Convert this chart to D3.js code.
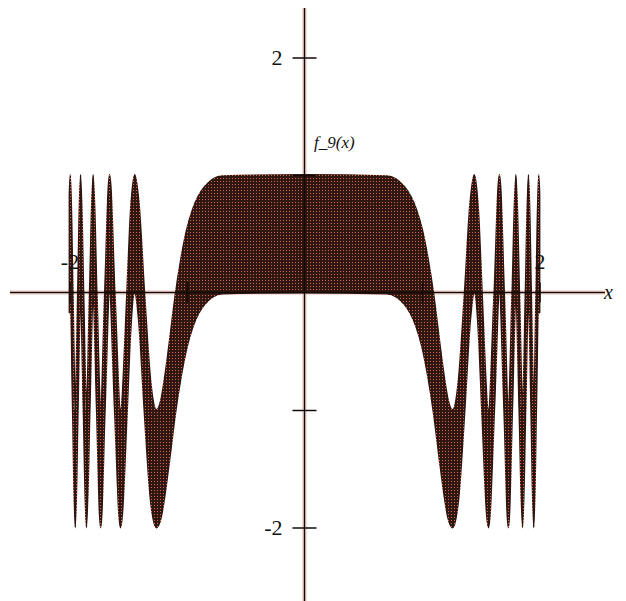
<!DOCTYPE html>
<html>
<head>
<meta charset="utf-8">
<script src="https://cdn.jsdelivr.net/npm/d3@7"></script>
<style>
  body { margin: 0; background: #fff; }
  svg { display: block; }
  .lbl { font-family: "Liberation Serif", "DejaVu Serif", serif; fill: #111; }
</style>
</head>
<body>
<div id="chart"></div>
<script>
// x positions (left to right)
const xs = [-2.0, -1.993, -1.972, -1.951, -1.929, -1.906, -1.881, -1.856, -1.828, -1.799,
    -1.768, -1.735, -1.699, -1.659, -1.615, -1.566, -1.51, -1.485, -1.445, -1.41,
    -1.363, -1.31, -1.26, -1.22, -1.19, -1.15, -1.10, -1.05, -1.0, -0.95, -0.85, -0.7,
    0,
    0.7, 0.85, 0.95, 1.0, 1.05, 1.10, 1.15, 1.19, 1.22, 1.26, 1.31, 1.363,
    1.41, 1.445, 1.485, 1.51, 1.566, 1.615, 1.659, 1.699, 1.735, 1.768,
    1.799, 1.828, 1.856, 1.881, 1.906, 1.929, 1.951, 1.972, 1.993, 2.0];

// top edge of the shaded band
const upper = [0.83, 1, 0, -1, 0, 1, 0, -1, 0, 1,
    0, -1, 0, 1, 0, -1, 0, 0.59, 1, 0.76,
    0, -0.76, -1, -0.91, -0.73, -0.43, -0.03, 0.29, 0.54, 0.71, 0.90, 0.99,
    1,
    0.99, 0.90, 0.71, 0.54, 0.29, -0.03, -0.43, -0.73, -0.91, -1, -0.76, 0,
    0.76, 1, 0.59, 0, -1, 0, 1, 0, -1, 0,
    1, 0, -1, 0, 1, 0, -1, 0, 1, 0.83];

// bottom edge of the shaded band
const lower = [-0.17, 0, -1, -2, -1, 0, -1, -2, -1, 0,
    -1, -2, -1, 0, -1, -2, -1, -0.41, 0, -0.24,
    -1, -1.76, -2, -1.91, -1.73, -1.43, -1.03, -0.71, -0.46, -0.29, -0.10, -0.01,
    0,
    -0.01, -0.10, -0.29, -0.46, -0.71, -1.03, -1.43, -1.73, -1.91, -2, -1.76, -1,
    -0.24, 0, -0.41, -1, -2, -1, 0, -1, -2, -1,
    0, -1, -2, -1, 0, -1, -2, -1, 0, -0.17];

const xTicks = [-2, -1, 1, 2];
const yTicks = [-2, -1, 1, 2];
const shownLabels = [-2, 2];

const width = 626;
const height = 601;

const svg = d3.select("#chart")
    .append("svg")
    .attr("width", width)
    .attr("height", height);

const pattern = svg.append("defs")
    .append("pattern")
    .attr("id", "dots")
    .attr("width", 3)
    .attr("height", 3)
    .attr("patternUnits", "userSpaceOnUse");
pattern.append("rect").attr("width", 3).attr("height", 3).attr("fill", "#2e1611");
pattern.append("rect").attr("x", 1).attr("y", 1).attr("width", 1).attr("height", 1).attr("fill", "#e0644c");

const xScale = d3.scaleLinear().domain([-2, 2]).range([69.5, 539.5]);
const yScale = d3.scaleLinear().domain([-2, 2]).range([527.5, 57.5]);

const x0 = xScale(0);
const y0 = yScale(0);

const axisLines = [
    { x1: 10, x2: 605, y1: y0, y2: y0 },
    { x1: x0, x2: x0, y1: 8, y2: height }
];

// faint pink halo under everything
axisLines.forEach(function(l) {
    svg.append("line")
        .attr("x1", l.x1).attr("x2", l.x2).attr("y1", l.y1).attr("y2", l.y2)
        .attr("stroke", "#f3c3b6")
        .attr("stroke-width", 5)
        .attr("opacity", 0.5);
});

const band = xs.map((x, i) => ({ x: x, hi: upper[i], lo: lower[i] }));

const area = d3.area()
    .x(d => xScale(d.x))
    .y0(d => yScale(d.lo))
    .y1(d => yScale(d.hi))
    .curve(d3.curveMonotoneX);

svg.append("path")
    .datum(band)
    .attr("d", area)
    .attr("fill", "url(#dots)")
    .attr("stroke", "url(#dots)")
    .attr("stroke-width", 1.8)
    .attr("stroke-linejoin", "round");

axisLines.forEach(function(l) {
    svg.append("line")
        .attr("x1", l.x1).attr("x2", l.x2).attr("y1", l.y1).attr("y2", l.y2)
        .attr("stroke", "#140806")
        .attr("stroke-width", 1.5);
});

function styleAxis(g) {
    g.select(".domain").remove();
    g.selectAll(".tick line").attr("stroke", "#140806").attr("stroke-width", 1.5);
    g.selectAll(".tick text")
        .attr("class", "lbl")
        .style("font-size", "22px");
}

const fmt = d => shownLabels.includes(d) ? String(d) : "";

svg.append("g")
    .attr("transform", `translate(${x0},0)`)
    .call(d3.axisLeft(yScale).tickValues(yTicks).tickSize(12).tickPadding(10).tickFormat(fmt))
    .call(styleAxis);

svg.append("g")
    .attr("transform", `translate(${x0},0)`)
    .call(d3.axisRight(yScale).tickValues(yTicks).tickSize(12).tickFormat(""))
    .call(styleAxis);

svg.append("g")
    .attr("transform", `translate(0,${y0})`)
    .call(d3.axisTop(xScale).tickValues(xTicks).tickSize(10).tickPadding(14).tickFormat(fmt))
    .call(styleAxis);

svg.append("g")
    .attr("transform", `translate(0,${y0})`)
    .call(d3.axisBottom(xScale).tickValues(xTicks).tickSize(10).tickFormat(""))
    .call(styleAxis);

svg.append("text")
    .attr("class", "lbl")
    .attr("x", 314)
    .attr("y", 148)
    .style("font-size", "17px")
    .style("font-style", "italic")
    .text("f_9(x)");

svg.append("text")
    .attr("class", "lbl")
    .attr("x", 604)
    .attr("y", 299)
    .style("font-size", "20px")
    .style("font-style", "italic")
    .text("x");
</script>
</body>
</html>
